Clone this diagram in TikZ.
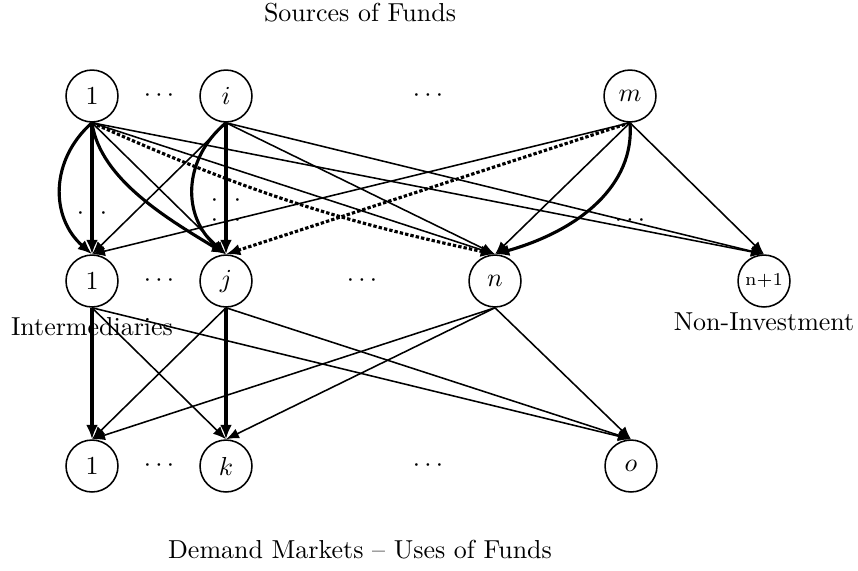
\documentclass[tikz,border=0pt]{standalone}
\usetikzlibrary{arrows.meta}
\begin{document}
\begin{tikzpicture}[x=0.385pt,y=-0.385pt,
  vnode/.style={circle, draw, line width=0.6pt, minimum size=20pt, inner sep=0pt},
  thinedge/.style={-{Latex[length=5pt,width=4pt]}, line width=0.6pt},
  thickedge/.style={-{Latex[length=5.5pt,width=4.5pt]}, line width=1.2pt},
  dotedge/.style={thickedge, dash pattern=on 1.3pt off 0.8pt},
  lbl/.style={inner sep=0pt, anchor=base},
  dts/.style={inner sep=0pt}]
\useasboundingbox (0,0) rectangle (858,570);
\newcommand{\mydots}{${\cdot}\mkern3mu{\cdot}\mkern3mu{\cdot}$}
\newcommand{\smdots}{\smash{\mydots}}
% top row
\node[vnode] (s1) at (92,96) {$1$};
\node[vnode] (si) at (226,96) {$i$};
\node[vnode] (sm) at (630,96) {$m$};
% middle row
\node[vnode] (f1) at (92,281) {$1$};
\node[vnode] (fj) at (226,281) {$j$};
\node[vnode] (fn) at (495,281) {$n$};
\node[vnode] (fn1) at (764,281) {\scriptsize n+1};
% bottom row
\node[vnode] (d1) at (92,466) {$1$};
\node[vnode] (dk) at (226,466) {$k$};
\node[vnode] (do) at (631,466) {$o$};
% dots
\node[dts] (t1) at (159,96) {\mydots};
\node[dts] (t2) at (428,96) {\mydots};
\node[dts] (m1) at (159,281) {\mydots};
\node[dts] (m2) at (362,281) {\mydots};
\node[dts] (b1) at (159,466) {\mydots};
\node[dts] (b2) at (428,466) {\mydots};
\node[dts] (e1) at (92,219.5) {\smdots};
\node[dts, align=center] (e2) at (226,216.5) {\smdots\\[-4.3pt]\smdots};
\node[dts] (e4) at (630,226.5) {\smdots};
% labels
\node[lbl] (ls) at (360,21) {Sources of Funds};
\node[lbl] (li) at (92,335) {Intermediaries};
\node[lbl] (ln) at (764,330) {Non-Investment};
\node[lbl] (ld) at (360,558) {Demand Markets -- Uses of Funds};
% source 1
\draw[thickedge] (s1.south) -- (f1.north);
\draw[thickedge] (s1.south) .. controls +(-42,37) and +(-42,-37) .. (f1.north);
\draw[thinedge] (s1.south) -- (fj.north);
\draw[thickedge] (s1.south) .. controls +(8,57) and +(-56,-34) .. (fj.north);
\draw[thinedge] (s1.south) -- (fn.north);
\draw[dotedge] (s1.south) to[bend right=6] (fn.north);
\draw[thinedge] (s1.south) -- (fn1.north);
% source i
\draw[thinedge] (si.south) -- (f1.north);
\draw[thickedge] (si.south) -- (fj.north);
\draw[thickedge] (si.south) .. controls +(-44,37) and +(-44,-37) .. (fj.north);
\draw[thinedge] (si.south) -- (fn.north);
\draw[thinedge] (si.south) -- (fn1.north);
% source m
\draw[thinedge] (sm.south) -- (f1.north);
\draw[dotedge] (sm.south) -- (fj.north);
\draw[thinedge] (sm.south) -- (fn.north);
\draw[thickedge] (sm.south) .. controls +(5,62) and +(85,-24) .. (fn.north);
\draw[thinedge] (sm.south) -- (fn1.north);
% intermediaries to demand markets
\draw[thickedge] (f1.south) -- (d1.north);
\draw[thinedge] (f1.south) -- (dk.north);
\draw[thinedge] (f1.south) -- (do.north);
\draw[thinedge] (fj.south) -- (d1.north);
\draw[thickedge] (fj.south) -- (dk.north);
\draw[thinedge] (fj.south) -- (do.north);
\draw[thinedge] (fn.south) -- (d1.north);
\draw[thinedge] (fn.south) -- (dk.north);
\draw[thinedge] (fn.south) -- (do.north);
\end{tikzpicture}
\end{document}
